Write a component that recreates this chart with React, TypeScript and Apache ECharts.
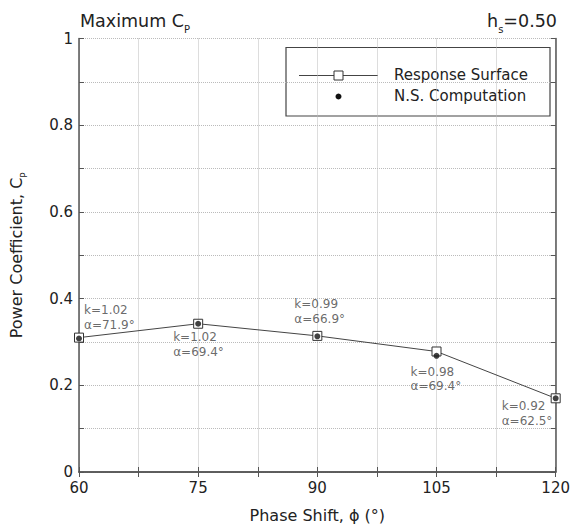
import React, { useEffect, useRef } from "react";
import * as echarts from "echarts";

// ---- data ----
const phaseShift = [60, 75, 90, 105, 120];
const responseSurfaceCp = [0.31, 0.342, 0.314, 0.278, 0.17];
const nsComputationCp = [0.308, 0.342, 0.313, 0.268, 0.17];
const reducedFrequency = ["1.02", "1.02", "0.99", "0.98", "0.92"];
const pitchAmplitude = ["71.9", "69.4", "66.9", "69.4", "62.5"];
const xTickLabels = [60, 75, 90, 105, 120];
const yTickLabels = [0, 0.2, 0.4, 0.6, 0.8, 1];

// label placement (pixels relative to point)
const annotationOffsets = [
  [5, -21],
  [-25, 21],
  [-23, -25],
  [-26, 23],
  [-54, 15],
];

const FONT = "'DejaVu Sans', 'Liberation Sans', sans-serif";
const TXT = "#222";
const AX = "#555";

export default function App() {
  const ref = useRef<HTMLDivElement>(null);

  useEffect(() => {
    if (!ref.current) return;
    const chart = echarts.init(ref.current, undefined, { renderer: "svg" });

    const xFmt = (v: number) =>
      xTickLabels.some((t) => Math.abs(t - v) < 1e-6) ? String(v) : "";
    const yFmt = (v: number) => {
      const t = yTickLabels.find((y) => Math.abs(y - v) < 1e-6);
      return t === undefined ? "" : String(t);
    };

    const gridL = 77.5,
      gridR = 557,
      gridT = 38.5;

    const titleRich = {
      a: { fontFamily: FONT, fontSize: 17.5, fontWeight: "normal", color: TXT, lineHeight: 26 },
      s: { fontFamily: FONT, fontSize: 10, fontWeight: "normal", color: TXT, lineHeight: 10, verticalAlign: "bottom" },
    };

    const option: any = {
      animation: false,
      backgroundColor: "#fff",
      textStyle: { fontFamily: FONT },
      title: [
        {
          text: "{a|Maximum C}{s|P}",
          left: 80,
          top: 8,
          padding: 0,
          textStyle: { fontWeight: "normal", rich: titleRich },
        },
        {
          text: "{a|h}{s|s}{a|=0.50}",
          right: 16,
          top: 8,
          padding: 0,
          textStyle: { fontWeight: "normal", rich: titleRich },
        },
      ],
      grid: { left: gridL, right: 573 - gridR, top: gridT, bottom: 53, containLabel: false },
      xAxis: [
        {
          type: "value",
          min: 60,
          max: 120,
          interval: 7.5,
          name: "Phase Shift, ϕ (°)",
          nameLocation: "middle",
          nameGap: 35,
          nameTextStyle: { fontFamily: FONT, fontSize: 16, color: TXT },
          axisLine: { show: true, lineStyle: { color: AX, width: 1.5 } },
          axisTick: { show: true, inside: true, length: 5, lineStyle: { color: AX } },
          axisLabel: { formatter: xFmt, fontFamily: FONT, fontSize: 15, color: TXT, margin: 8, showMinLabel: true, showMaxLabel: true },
          splitLine: { show: true, lineStyle: { color: "#bbb", type: "dotted", width: 1 } },
        },
        {
          type: "value",
          position: "top",
          min: 60,
          max: 120,
          interval: 7.5,
          axisLine: { show: true, lineStyle: { color: AX, width: 1.5 } },
          axisTick: { show: true, inside: true, length: 5, lineStyle: { color: AX } },
          axisLabel: { show: false },
          splitLine: { show: false },
        },
      ],
      yAxis: [
        {
          type: "value",
          min: 0,
          max: 1,
          interval: 0.1,
          name: "{a|Power Coefficient, C}{s|P}",
          nameLocation: "middle",
          nameGap: 51,
          nameTextStyle: {
            rich: {
              a: { fontFamily: FONT, fontSize: 16, color: TXT, lineHeight: 24 },
              s: { fontFamily: FONT, fontSize: 9, color: TXT, lineHeight: 9, verticalAlign: "bottom" },
            },
          },
          axisLine: { show: true, lineStyle: { color: AX, width: 1.5 } },
          axisTick: { show: true, inside: true, length: 5, lineStyle: { color: AX } },
          axisLabel: { formatter: yFmt, fontFamily: FONT, fontSize: 15, color: TXT, margin: 6 },
          splitLine: { show: true, lineStyle: { color: "#bbb", type: "dotted", width: 1 } },
        },
        {
          type: "value",
          position: "right",
          min: 0,
          max: 1,
          interval: 0.1,
          axisLine: { show: true, lineStyle: { color: AX, width: 1.5 } },
          axisTick: { show: true, inside: true, length: 5, lineStyle: { color: AX } },
          axisLabel: { show: false },
          splitLine: { show: false },
        },
      ],
      series: [
        {
          name: "Response Surface",
          type: "line",
          data: phaseShift.map((x, i) => [x, responseSurfaceCp[i]]),
          symbol: "rect",
          symbolSize: 9,
          lineStyle: { color: "#444", width: 1 },
          itemStyle: { color: "#fff", borderColor: "#333", borderWidth: 1 },
          emphasis: { disabled: true },
          z: 3,
        },
        {
          name: "N.S. Computation",
          type: "scatter",
          data: phaseShift.map((x, i) => ({
            value: [x, nsComputationCp[i]],
            label: { offset: annotationOffsets[i] },
          })),
          symbol: "circle",
          symbolSize: 6,
          itemStyle: { color: "#111" },
          emphasis: { disabled: true },
          z: 4,
          label: {
            show: true,
            position: "inside",
            align: "left",
            verticalAlign: "middle",
            fontFamily: FONT,
            fontSize: 12,
            lineHeight: 14.5,
            color: "#444",
            formatter: (p: any) =>
              `k=${reducedFrequency[p.dataIndex]}\nα=${pitchAmplitude[p.dataIndex]}°`,
          },
        },
      ],
      graphic: [
        {
          type: "group",
          z: 100,
          children: [
            {
              type: "rect",
              shape: { x: 286, y: 47.5, width: 264, height: 68.5 },
              style: { fill: "#fff", stroke: "#444", lineWidth: 1.2 },
            },
            {
              type: "line",
              shape: { x1: 299, y1: 75.5, x2: 378, y2: 75.5 },
              style: { stroke: "#444", lineWidth: 1 },
            },
            {
              type: "rect",
              shape: { x: 334, y: 71, width: 9, height: 9 },
              style: { fill: "#fff", stroke: "#333", lineWidth: 1 },
            },
            {
              type: "circle",
              shape: { cx: 338.5, cy: 96.5, r: 3 },
              style: { fill: "#111" },
            },
            {
              type: "text",
              x: 394,
              y: 74.5,
              style: { text: "Response Surface", fontFamily: FONT, fontSize: 15, fill: TXT, verticalAlign: "middle" },
            },
            {
              type: "text",
              x: 394,
              y: 95.5,
              style: { text: "N.S. Computation", fontFamily: FONT, fontSize: 15, fill: TXT, verticalAlign: "middle" },
            },
          ],
        },
      ],
    };

    chart.setOption(option);
    return () => chart.dispose();
  }, []);

  return (
    <div
      ref={ref}
      style={{ position: "fixed", left: 0, top: 0, width: 573, height: 528, background: "#fff" }}
    />
  );
}
